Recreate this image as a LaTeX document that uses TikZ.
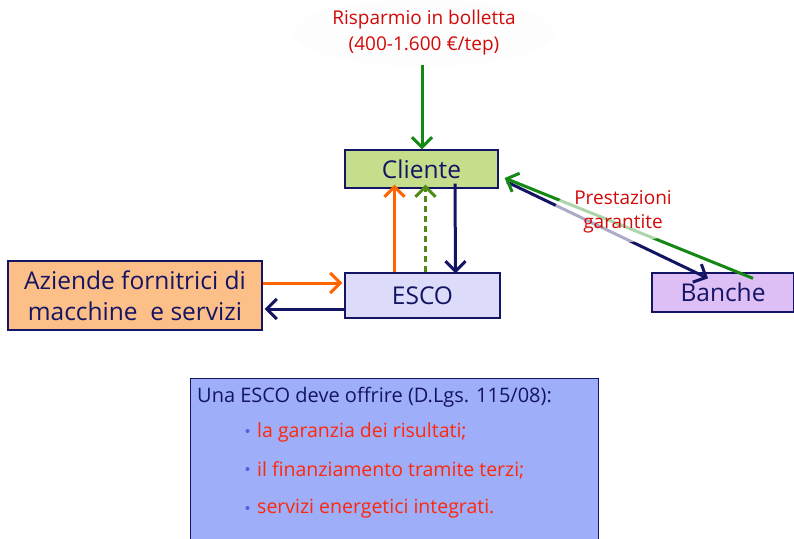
\documentclass[tikz,border=0pt]{standalone}
\usepackage{fontspec}
\setmainfont{Open Sans}
\usepackage{tikz}
\usetikzlibrary{arrows.meta,shapes.geometric,positioning}
\definecolor{esnavy}{RGB}{20,20,100}
\definecolor{esred}{RGB}{210,10,10}
\definecolor{esorange}{RGB}{255,100,0}
\definecolor{esgreen}{RGB}{20,135,20}
\definecolor{esolive}{RGB}{80,140,20}
\definecolor{esclient}{RGB}{196,222,140}
\definecolor{esesco}{RGB}{220,220,250}
\definecolor{esfirm}{RGB}{251,191,135}
\definecolor{esbank}{RGB}{221,191,245}
\definecolor{esnote}{RGB}{158,174,248}
\definecolor{esitem}{RGB}{255,40,10}
\definecolor{esdot}{RGB}{80,96,224}
\tikzstyle{box} = [draw=esnavy, line width=1.3pt, text=esnavy, inner sep=0pt, align=center]
\tikzstyle{arrow} = [line width=3pt,-{Straight Barb[length=10pt,width=20pt]}]

\begin{document}
\begin{tikzpicture}[x=1pt, y=-1pt]
\useasboundingbox (0,0) rectangle (794,538);
% Actors
\node[box, fill=esclient, minimum width=153pt, minimum height=38pt, font=\fontsize{24.5}{28}\selectfont] (cliente) at (421.5,169) {Cliente};
\node[box, fill=esesco, minimum width=155pt, minimum height=45pt, font=\fontsize{24.5}{28}\selectfont] (esco) at (422.5,295.5) {ESCO};
\node[box, fill=esfirm, minimum width=254pt, minimum height=69pt, font=\fontsize{24.5}{31}\selectfont] (aziende) at (135,295.5) {Aziende fornitrici di\\macchine \ e servizi};
\node[box, fill=esbank, minimum width=142pt, minimum height=39pt, font=\fontsize{24.5}{28}\selectfont] (banche) at (723,292.5) {Banche};
% Saving on the bill
\node[ellipse, fill=gray!1.5, text=esred, align=center, inner sep=1pt, font=\fontsize{19}{26}\selectfont] (risparmio) at (424,33) {Risparmio in bolletta\\(400-1.600 €/tep)};
\draw[arrow, esgreen] (422,65) -- (cliente.north -| 422,0);
% Flows around the ESCO
\draw[arrow, esorange] ([xshift=-28pt]esco.north) -- ([xshift=-28pt,yshift=4pt]esco.north |- cliente.south);
\draw[arrow, esolive, dashed, dash pattern=on 6pt off 4pt] ([xshift=3pt]esco.north) -- ([xshift=3pt,yshift=4pt]esco.north |- cliente.south);
\draw[arrow, esnavy] ([xshift=33.5pt,yshift=5pt]cliente.south) -- ([xshift=33pt,yshift=-1pt]esco.north);
\draw[arrow, esorange] (aziende.east |- 0,283) -- ([xshift=-2pt]esco.west |- 0,283);
\draw[arrow, esnavy] (esco.west |- 0,309) -- ([xshift=2pt]aziende.east |- 0,309);
% Banks
\draw[arrow, esnavy] (507,182) -- ([xshift=-15pt,yshift=-6pt]banche.north west -| 723,0);
\draw[arrow, esgreen] ([xshift=30pt,yshift=-6pt]banche.north) -- ([xshift=6pt,yshift=-9pt]cliente.east);
\node[ellipse, fill=white, fill opacity=0.65, text opacity=1, text=esred, align=center, inner sep=0pt, minimum width=122pt, minimum height=58pt, font=\fontsize{19}{24}\selectfont] (prestazioni) at (623,212) {Prestazioni\\garantite};
% Note box
\draw[draw=esnavy, line width=1pt, fill=esnote] (190,378) rectangle (598,545);
\node[anchor=west, text=esnavy, inner sep=0pt, font=\fontsize{20}{24}\selectfont] (titolo) at (197,397) {Una ESCO deve offrire (D.Lgs. 115/08):};
\foreach \y/\t in {432/la garanzia dei risultati;, 470/il finanziamento tramite terzi;, 509/servizi energetici integrati.} {
  \fill[esdot] (247.5,\y-1) circle (2pt);
  \node[anchor=west, text=esitem, inner sep=0pt, font=\fontsize{19.5}{24}\selectfont] at (257,\y) {\t};
}
\end{tikzpicture}
\end{document}
